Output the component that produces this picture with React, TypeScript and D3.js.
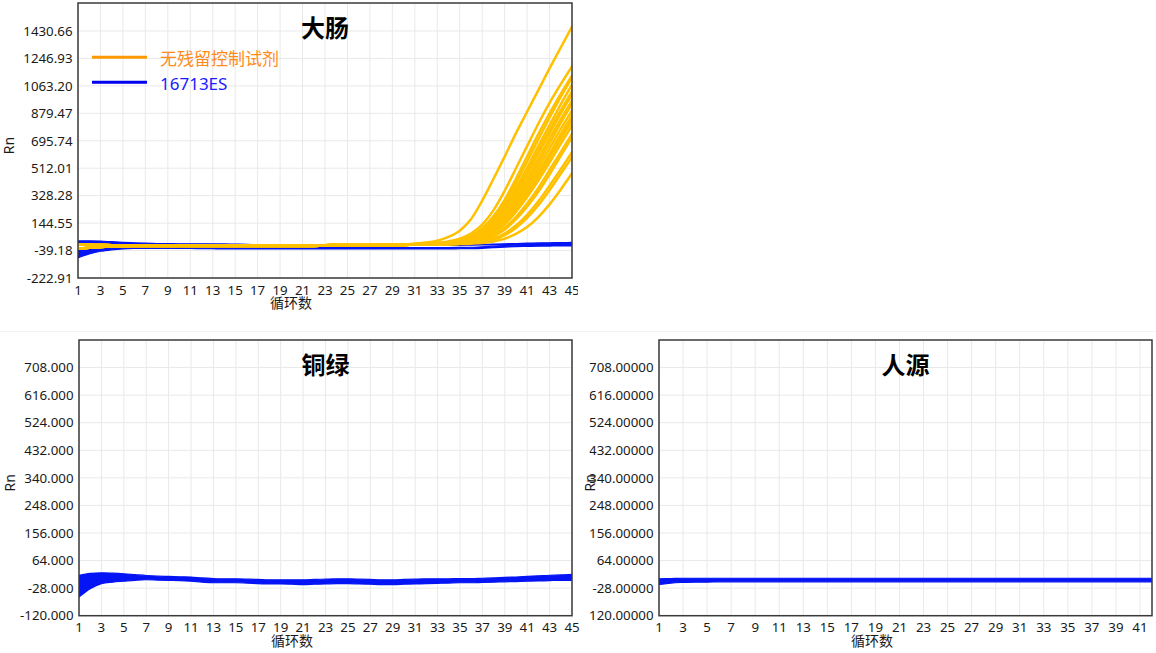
import React from 'react';
import * as d3 from 'd3';

// ---------- data ----------
const cycles: number[] = d3.range(1, 46);

// 大肠 chart ticks
const yTicksDaChang = [-222.91, -39.18, 144.55, 328.28, 512.01, 695.74, 879.47, 1063.2, 1246.93, 1430.66];
// 铜绿 / 人源 ticks
const yTicksLower = [-120, -28, 64, 156, 248, 340, 432, 524, 616, 708];

// 大肠: orange early baseline (cycles 1-30), two variants
const orangeEarlyA = [0, -1, -2, -3, -3, -3, -3, -3, -3, -3, -3, -3, -3, -3, -3, -3, -3, -3, -3, -3, -3, -3, -3, -2, -2, -2, -2, -1, -1, 0];
const orangeEarlyB = [-26, -20, -15, -12, -10, -9, -8, -8, -8, -8, -8, -8, -8, -8, -8, -8, -8, -8, -8, -8, -8, -8, -7, -7, -7, -6, -6, -5, -4, -3];

// 大肠: orange late values (cycles 31-45), one row per well
const orangeLate: number[][] = [
  [8, 14, 27, 52, 94, 170, 295, 440, 590, 745, 890, 1035, 1180, 1320, 1460],
  [4, 7, 12, 22, 40, 75, 135, 230, 360, 510, 660, 810, 950, 1075, 1194],
  [3, 6, 10, 18, 32, 60, 110, 190, 300, 440, 590, 740, 880, 1010, 1132],
  [3, 5, 9, 16, 28, 52, 95, 170, 280, 410, 555, 705, 850, 990, 1117],
  [3, 5, 8, 14, 26, 48, 88, 155, 255, 380, 515, 660, 800, 940, 1070],
  [2, 4, 7, 13, 24, 45, 82, 145, 240, 360, 490, 630, 770, 900, 1027],
  [2, 4, 7, 12, 22, 40, 75, 135, 225, 340, 470, 610, 745, 880, 1005],
  [2, 3, 6, 11, 20, 36, 66, 120, 205, 315, 440, 575, 710, 840, 965],
  [2, 3, 5, 10, 18, 33, 60, 110, 190, 295, 415, 545, 680, 815, 943],
  [1, 3, 5, 9, 16, 30, 55, 100, 175, 275, 390, 515, 645, 775, 898],
  [1, 2, 4, 8, 14, 26, 48, 90, 160, 255, 365, 485, 610, 740, 864],
  [1, 2, 4, 8, 14, 25, 46, 86, 152, 245, 352, 470, 595, 720, 850],
  [1, 2, 4, 7, 13, 24, 44, 82, 145, 235, 340, 455, 580, 705, 831],
  [1, 2, 4, 7, 12, 22, 40, 75, 135, 220, 320, 430, 550, 675, 798],
  [1, 2, 3, 6, 10, 18, 33, 62, 112, 185, 275, 380, 500, 620, 742],
  [1, 2, 3, 5, 9, 16, 30, 56, 102, 170, 255, 355, 470, 595, 719],
  [1, 1, 2, 4, 7, 12, 22, 40, 75, 128, 200, 290, 395, 505, 619],
  [1, 1, 2, 3, 6, 10, 18, 34, 64, 112, 180, 265, 365, 475, 585],
  [0, 1, 1, 2, 4, 7, 12, 22, 40, 72, 118, 185, 270, 370, 478],
];

// 大肠: 16713ES blue envelopes (cycles 1-45)
const blueHighUpper = [25, 26, 24, 20, 16, 13, 10, 8, 7, 6, 6, 6, 5, 5, 4, 3, 0, -2, -2, -2, -2, -2, -2, -2, -2, -2, -2, -2, -2, -2, -2, -2, -2, -2, -1, 0, 2, 4, 6, 8, 10, 12, 13, 14, 15];
const blueHighLower = [0, 2, 2, 2, 1, 0, -1, -2, -2, -2, -3, -3, -3, -3, -3, -3, -4, -4, -4, -4, -4, -4, -4, -4, -4, -4, -4, -4, -4, -4, -4, -4, -4, -4, -4, -3, -2, -1, 0, 1, 2, 3, 4, 5, 6];
const blueLowUpper = [-32, -26, -20, -16, -14, -13, -13, -14, -15, -16, -17, -18, -19, -19, -19, -19, -19, -19, -19, -19, -19, -19, -19, -19, -19, -19, -19, -19, -19, -19, -19, -19, -19, -19, -18, -17, -14, -10, -6, -3, -1, 0, 1, 2, 3];
const blueLowLower = [-88, -62, -44, -34, -28, -25, -24, -24, -24, -25, -25, -26, -27, -28, -28, -28, -28, -28, -28, -28, -28, -28, -28, -28, -28, -28, -28, -28, -28, -28, -28, -28, -28, -28, -27, -26, -24, -20, -16, -13, -11, -10, -9, -8, -8];

// 铜绿: blue envelope
const tongLvUpper = [15, 21, 23, 22, 20, 17, 14, 12, 11, 10, 9, 6, 4, 3, 3, 2, 1, 0, 0, 0, 0, 1, 2, 3, 3, 2, 1, 0, 0, 1, 2, 3, 3, 3, 4, 4, 5, 6, 8, 9, 11, 13, 15, 16, 18];
const tongLvLower = [-58, -30, -13, -8, -5, -2, 0, -1, -2, -3, -5, -8, -10, -10, -10, -11, -13, -14, -14, -15, -16, -15, -14, -13, -13, -14, -15, -16, -16, -15, -14, -13, -12, -11, -10, -10, -9, -8, -7, -6, -5, -4, -3, -2, -2];

// 人源: blue envelope
const renYuanUpper = [3, 4, 5, 5, 5, 5, 5, 5, 5, 5, 5, 5, 5, 5, 5, 5, 5, 5, 5, 5, 5, 5, 5, 5, 5, 5, 5, 5, 5, 5, 5, 5, 5, 5, 5, 5, 5, 5, 5, 5, 5, 5, 5, 5, 5];
const renYuanLower = [-16, -11, -9, -8, -8, -7, -7, -7, -7, -7, -7, -7, -7, -7, -7, -7, -7, -7, -7, -7, -7, -7, -7, -7, -7, -7, -7, -7, -7, -7, -7, -7, -7, -7, -7, -7, -7, -7, -7, -7, -7, -7, -7, -7, -7];

const legendItems = [
  { label: '无残留控制试剂', line: '#ff9900', text: '#ff8c1a' },
  { label: '16713ES', line: '#0000ee', text: '#1a1aff' },
];

// ---------- styles ----------
const ORANGE = '#ffc000';
const BLUE = '#0414f4';
const FONT = '"Noto Sans", "Noto Sans CJK SC", sans-serif';

type Band = { upper: number[]; lower: number[] };
type ChartProps = {
  id: string;
  clipX0: number;
  clipX1: number;
  left: number;
  top: number;
  right: number;
  bottom: number;
  xMax: number;
  yMin: number;
  yMax: number;
  yTicks: number[];
  yDigits: number;
  title: string;
  bands: Band[];
  lines: number[][];
  legend?: boolean;
};

function Chart(p: ChartProps) {
  const x = d3.scaleLinear().domain([1, p.xMax]).range([p.left, p.right]);
  const y = d3.scaleLinear().domain([p.yMin, p.yMax]).range([p.bottom, p.top]);
  const xTicks = d3.range(1, p.xMax + 1, 2);
  const line = d3
    .line<number>()
    .x((_, i) => x(cycles[i]))
    .y((d) => y(d))
    .curve(d3.curveMonotoneX);
  const bandPath = (b: Band) =>
    d3
      .area<number>()
      .x((_, i) => x(cycles[i]))
      .y0((_, i) => y(b.lower[i]))
      .y1((d) => y(d))
      .curve(d3.curveMonotoneX)(b.upper) || '';
  const plotW = p.right - p.left;
  const plotH = p.bottom - p.top;
  const midY = (p.top + p.bottom) / 2;
  return (
    <g>
      <defs>
        <clipPath id={`panel-${p.id}`}>
          <rect x={p.clipX0} y={0} width={p.clipX1 - p.clipX0} height={653} />
        </clipPath>
        <clipPath id={`plot-${p.id}`}>
          <rect x={p.left} y={p.top} width={plotW} height={plotH} />
        </clipPath>
      </defs>
      <g clipPath={`url(#panel-${p.id})`}>
        {/* grid */}
        {xTicks.map((t) => (
          <line key={'gx' + t} x1={x(t)} x2={x(t)} y1={p.top} y2={p.bottom} stroke="#e9e9e9" strokeWidth={1} />
        ))}
        {p.yTicks.map((t) => (
          <line key={'gy' + t} x1={p.left} x2={p.right} y1={y(t)} y2={y(t)} stroke="#e9e9e9" strokeWidth={1} />
        ))}
        {/* data */}
        <g clipPath={`url(#plot-${p.id})`}>
          {p.bands.map((b, i) => (
            <path key={'b' + i} d={bandPath(b)} fill={BLUE} stroke={BLUE} strokeWidth={1.2} strokeLinejoin="round" />
          ))}
          {p.lines.map((l, i) => (
            <path key={'l' + i} d={line(l) || ''} fill="none" stroke={ORANGE} strokeWidth={2.5} strokeLinejoin="round" strokeLinecap="round" />
          ))}
        </g>
        {/* frame */}
        <rect x={p.left} y={p.top} width={plotW} height={plotH} fill="none" stroke="#3a3a3a" strokeWidth={1.5} />
        {/* y tick labels */}
        {p.yTicks.map((t) => (
          <text key={'ty' + t} x={p.left - 5.5} y={y(t)} dy="0.36em" textAnchor="end" fontFamily={FONT} fontSize={13.3} fill="#1a1a1a">
            {t.toFixed(p.yDigits)}
          </text>
        ))}
        {/* x tick labels */}
        {xTicks.map((t) => (
          <text key={'tx' + t} x={x(t)} y={p.bottom + 12} dy="0.36em" textAnchor="middle" fontFamily={FONT} fontSize={13.3} fill="#1a1a1a">
            {t}
          </text>
        ))}
        {/* axis title */}
        <text x={p.left + 192} y={p.bottom + 25} dy="0.36em" fontFamily={FONT} fontSize={14} fill="#1a1a1a">
          循环数
        </text>
        {/* title */}
        <text
          x={(p.left + p.right) / 2}
          y={p.top + 25}
          dy="0.36em"
          textAnchor="middle"
          fontFamily='"Noto Sans CJK SC", sans-serif'
          fontWeight={700}
          fontSize={24}
          fill="#000"
        >
          {p.title}
        </text>
        {/* legend */}
        {p.legend &&
          legendItems.map((it, i) => (
            <g key={it.label}>
              <line x1={p.left + 14} x2={p.left + 69} y1={57.3 + i * 25} y2={57.3 + i * 25} stroke={it.line} strokeWidth={3} />
              <text x={p.left + 82} y={58.5 + i * 25} dy="0.36em" fontFamily={FONT} fontSize={17} fill={it.text}>
                {it.label}
              </text>
            </g>
          ))}
      </g>
      <text
        transform={`translate(${p.left - 69},${midY + 5}) rotate(-90)`}
        textAnchor="middle"
        dy="0.36em"
        fontFamily={FONT}
        fontSize={14}
        fill="#1a1a1a"
      >
        Rn
      </text>
    </g>
  );
}

export default function App() {
  const daChangLines = orangeLate.map((late, i) => (i % 2 === 0 ? orangeEarlyA : orangeEarlyB).concat(late));
  return (
    <svg
      width={1156}
      height={653}
      viewBox="0 0 1156 653"
      style={{ position: 'absolute', left: 0, top: 0, background: '#fff' }}
    >
      <rect x={0} y={0} width={1156} height={653} fill="#fff" />
      <line x1={0} x2={1156} y1={331.5} y2={331.5} stroke="#f3f3f3" strokeWidth={1} />
      <Chart
        id="dachang"
        clipX0={0}
        clipX1={578}
        left={78}
        top={3}
        right={572}
        bottom={278}
        xMax={45}
        yMin={-222.91}
        yMax={1618.1}
        yTicks={yTicksDaChang}
        yDigits={2}
        title="大肠"
        bands={[
          { upper: blueLowUpper, lower: blueLowLower },
          { upper: blueHighUpper, lower: blueHighLower },
        ]}
        lines={daChangLines}
        legend
      />
      <Chart
        id="tonglv"
        clipX0={0}
        clipX1={580}
        left={79}
        top={340}
        right={572}
        bottom={615.7}
        xMax={45}
        yMin={-120}
        yMax={800}
        yTicks={yTicksLower}
        yDigits={3}
        title="铜绿"
        bands={[{ upper: tongLvUpper, lower: tongLvLower }]}
        lines={[]}
      />
      <Chart
        id="renyuan"
        clipX0={589.5}
        clipX1={1156}
        left={659}
        top={340}
        right={1152}
        bottom={615.7}
        xMax={42}
        yMin={-120}
        yMax={800}
        yTicks={yTicksLower}
        yDigits={5}
        title="人源"
        bands={[{ upper: renYuanUpper, lower: renYuanLower }]}
        lines={[]}
      />
    </svg>
  );
}
